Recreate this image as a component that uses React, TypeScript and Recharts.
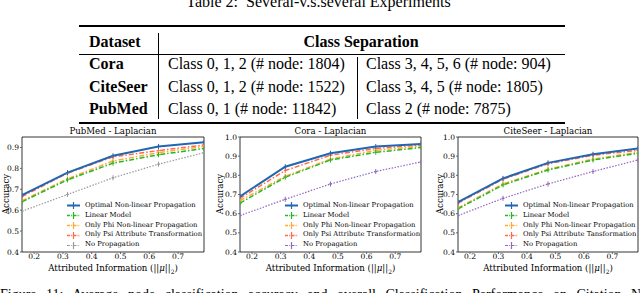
import React from "react"
import { LineChart, Line, XAxis, YAxis, ReferenceArea } from "recharts"

// table content
const tableTitle = "Table 2:  Several-v.s.several Experiments"
const datasets = ["Cora", "CiteSeer", "PubMed"]
const groupA = ["Class 0, 1, 2 (# node: 1804)", "Class 0, 1, 2 (# node: 1522)", "Class 0, 1 (# node: 11842)"]
const groupB = ["Class 3, 4, 5, 6 (# node: 904)", "Class 3, 4, 5 (# node: 1805)", "Class 2 (# node: 7875)"]

// x values of the sweep
const attrInfo = [0.158, 0.316, 0.474, 0.632, 0.79]
const xTicks = [0.2, 0.3, 0.4, 0.5, 0.6, 0.7]

const pubmedOptimal = [0.672, 0.78, 0.86, 0.905, 0.925]
const pubmedLinear = [0.64, 0.745, 0.825, 0.865, 0.895]
const pubmedPhi = [0.645, 0.75, 0.835, 0.875, 0.905]
const pubmedPsi = [0.665, 0.777, 0.855, 0.885, 0.912]
const pubmedNone = [0.595, 0.675, 0.755, 0.82, 0.875]

const coraOptimal = [0.69, 0.845, 0.915, 0.95, 0.963]
const coraLinear = [0.655, 0.79, 0.88, 0.92, 0.945]
const coraPhi = [0.668, 0.795, 0.885, 0.93, 0.952]
const coraPsi = [0.68, 0.825, 0.905, 0.94, 0.958]
const coraNone = [0.59, 0.675, 0.755, 0.82, 0.87]

const citeseerOptimal = [0.66, 0.784, 0.865, 0.91, 0.94]
const citeseerLinear = [0.625, 0.75, 0.828, 0.88, 0.915]
const citeseerPhi = [0.63, 0.755, 0.832, 0.885, 0.92]
const citeseerPsi = [0.655, 0.78, 0.86, 0.905, 0.93]
const citeseerNone = [0.59, 0.68, 0.755, 0.82, 0.88]

const seriesNames = [
    "Optimal Non-linear Propagation",
    "Linear Model",
    "Only Phi Non-linear Propagation",
    "Only Psi Attribute Transformation",
    "No Propagation",
]

const serif = "'DejaVu Serif', serif"
const times = "'Liberation Serif', 'Times New Roman', serif"

type Style = { key: string; color: string; width: number; dash?: string }

const makeStyles = (noneColor: string): Style[] => [
    { key: "opt", color: "#1f66b3", width: 2 },
    { key: "lin", color: "#25b825", width: 1.5, dash: "5 2 1.5 2" },
    { key: "phi", color: "#ffaa33", width: 1.5, dash: "5 2 1.5 2" },
    { key: "psi", color: "#ff6a4d", width: 1.5, dash: "5 2 1.5 2" },
    { key: "none", color: noneColor, width: 1.2, dash: "1.5 1.5" },
]

const PlusDot = (props: any) => {
    const { cx, cy, stroke } = props
    if (cx == null || cy == null) return null
    return (
        <g>
            <line x1={cx} x2={cx} y1={cy - 2.5} y2={cy + 2.5} stroke={stroke} strokeWidth={1} />
            <line x1={cx - 1.5} x2={cx + 1.5} y1={cy} y2={cy} stroke={stroke} strokeWidth={1} />
        </g>
    )
}

const LegendBox = ({ styles, names, left, top }: { styles: Style[]; names: string[]; left: number; top: number }) => (
    <div style={{ position: "absolute", left, top, fontFamily: serif, fontSize: 6.8, lineHeight: "9.8px", color: "#000" }}>
        {styles.map((s, i) => (
            <div key={s.key} style={{ display: "flex", alignItems: "center", whiteSpace: "nowrap", height: 9.8 }}>
                <svg width={19} height={9}>
                    <line x1={1} x2={14} y1={4.5} y2={4.5} stroke={s.color} strokeWidth={s.width} strokeDasharray={s.dash ? "3 1.2 1 1.2" : undefined} />
                    <line x1={7.5} x2={7.5} y1={1} y2={8} stroke={s.color} strokeWidth={1.2} />
                </svg>
                <span>{names[i]}</span>
            </div>
        ))}
    </div>
)

interface PanelProps {
    title: string
    left: number
    yWidth: number
    plotWidth: number
    rightMargin: number
    yMax: number
    yTicks: number[]
    values: number[][]
    noneColor: string
    names: string[]
    legendLeft: number
    yLabelX: number
}

const Panel = ({ title, left, yWidth, plotWidth, rightMargin, yMax, yTicks, values, noneColor, names, legendLeft, yLabelX }: PanelProps) => {
    const styles = makeStyles(noneColor)
    const data = attrInfo.map((x, i) => ({
        x,
        opt: values[0][i],
        lin: values[1][i],
        phi: values[2][i],
        psi: values[3][i],
        none: values[4][i],
    }))
    const W = yWidth + plotWidth + rightMargin
    const plotLeft = left + yWidth
    const centerX = plotLeft + plotWidth / 2
    return (
        <>
            <LineChart
                width={W}
                height={163}
                data={data}
                margin={{ top: 17, right: rightMargin, bottom: 0, left: 0 }}
                style={{ position: "absolute", left: left, top: 120 }}
            >
                <XAxis
                    dataKey="x"
                    type="number"
                    domain={[attrInfo[0], attrInfo[attrInfo.length - 1]]}
                    ticks={xTicks}
                    tickFormatter={(v) => v.toFixed(1)}
                    tick={{ fontSize: 7.5, fill: "#000", fontFamily: serif }}
                    tickSize={2}
                    tickMargin={0}
                    axisLine={false}
                    height={31}
                    allowDataOverflow
                />
                <YAxis
                    type="number"
                    domain={[0.4, yMax]}
                    ticks={yTicks}
                    tickFormatter={(v) => v.toFixed(1)}
                    tick={{ fontSize: 7.5, fill: "#000", fontFamily: serif }}
                    tickSize={2}
                    tickMargin={1}
                    axisLine={false}
                    width={yWidth}
                    allowDataOverflow
                />
                <ReferenceArea
                    x1={attrInfo[0]}
                    x2={attrInfo[attrInfo.length - 1]}
                    y1={0.4}
                    y2={yMax}
                    fill="none"
                    fillOpacity={0}
                    stroke="#000"
                    strokeWidth={0.8}
                />
                {[...styles].reverse().map((s) => (
                    <Line
                        key={s.key}
                        dataKey={s.key}
                        stroke={s.color}
                        strokeWidth={s.width}
                        strokeDasharray={s.dash}
                        dot={<PlusDot />}
                        activeDot={false}
                        isAnimationActive={false}
                        type="linear"
                    />
                ))}
            </LineChart>
            <LegendBox styles={styles} names={names} left={legendLeft} top={201} />
            <div style={{ position: "absolute", left: centerX - 100, width: 200, top: 126, textAlign: "center", fontFamily: serif, fontSize: 8.6, lineHeight: "10px" }}>
                {title}
            </div>
            <div style={{ position: "absolute", left: centerX - 100, width: 200, top: 262.5, textAlign: "center", fontFamily: serif, fontSize: 8.6, lineHeight: "10px", whiteSpace: "nowrap" }}>
                Attributed Information (||<i>μ</i>||<sub style={{ fontSize: 6, lineHeight: 0 }}>2</sub>)
            </div>
            <div
                style={{
                    position: "absolute",
                    left: yLabelX - 40,
                    width: 80,
                    top: 189,
                    textAlign: "center",
                    fontFamily: serif,
                    fontSize: 8.6,
                    lineHeight: "10px",
                    transform: "rotate(-90deg)",
                }}
            >
                Accuracy
            </div>
        </>
    )
}

const App = () => {
    const rule = (top: number, h: number) => (
        <div style={{ position: "absolute", left: 79, width: 486, top, height: h, background: "#000" }} />
    )
    return (
        <div style={{ position: "absolute", left: 0, top: 0, width: 640, height: 293, overflow: "hidden", background: "#fff" }}>
            <div style={{ position: "absolute", left: 0, width: 637, top: -6, textAlign: "center", fontFamily: times, fontSize: 16, lineHeight: "16px", whiteSpace: "pre" }}>
                {tableTitle}
            </div>
            {rule(25, 2)}
            {rule(54, 1)}
            {rule(122, 2)}
            <div style={{ position: "absolute", left: 158, top: 33, width: 1, height: 86, background: "#000" }} />
            <div style={{ position: "absolute", left: 357, top: 57, width: 1, height: 62, background: "#000" }} />
            <div style={{ position: "absolute", left: 89, top: 34, fontFamily: times, fontSize: 16, lineHeight: "16px", fontWeight: 700 }}>Dataset</div>
            <div style={{ position: "absolute", left: 261, width: 200, top: 34, textAlign: "center", fontFamily: times, fontSize: 16, lineHeight: "16px", fontWeight: 700 }}>
                Class Separation
            </div>
            {datasets.map((d, i) => (
                <React.Fragment key={d}>
                    <div style={{ position: "absolute", left: 89, top: 56 + i * 22.5, fontFamily: times, fontSize: 16, lineHeight: "16px", fontWeight: 700 }}>{d}</div>
                    <div style={{ position: "absolute", left: 168, top: 56 + i * 22.5, fontFamily: times, fontSize: 16, lineHeight: "16px", whiteSpace: "nowrap" }}>{groupA[i]}</div>
                    <div style={{ position: "absolute", left: 366, top: 56 + i * 22.5, fontFamily: times, fontSize: 16, lineHeight: "16px", whiteSpace: "nowrap" }}>{groupB[i]}</div>
                </React.Fragment>
            ))}

            <Panel
                title="PubMed - Laplacian"
                left={0}
                yWidth={22}
                plotWidth={182}
                rightMargin={6}
                yMax={0.95}
                yTicks={[0.4, 0.5, 0.6, 0.7, 0.8, 0.9]}
                values={[pubmedOptimal, pubmedLinear, pubmedPhi, pubmedPsi, pubmedNone]}
                noneColor="#9a9a9a"
                names={seriesNames}
                legendLeft={66}
                yLabelX={6}
            />
            <Panel
                title="Cora - Laplacian"
                left={212}
                yWidth={28}
                plotWidth={181}
                rightMargin={3}
                yMax={1.0}
                yTicks={[0.4, 0.5, 0.6, 0.7, 0.8, 0.9, 1.0]}
                values={[coraOptimal, coraLinear, coraPhi, coraPsi, coraNone]}
                noneColor="#9467bd"
                names={seriesNames}
                legendLeft={284}
                yLabelX={220}
            />
            <Panel
                title="CiteSeer - Laplacian"
                left={426}
                yWidth={32}
                plotWidth={180}
                rightMargin={2}
                yMax={1.0}
                yTicks={[0.4, 0.5, 0.6, 0.7, 0.8, 0.9, 1.0]}
                values={[citeseerOptimal, citeseerLinear, citeseerPhi, citeseerPsi, citeseerNone]}
                noneColor="#9467bd"
                names={[seriesNames[0], seriesNames[1], seriesNames[2], "Only Psi Attribute Tansformation", seriesNames[4]]}
                legendLeft={504}
                yLabelX={440}
            />

            <div style={{ position: "absolute", left: 0, width: 640, top: 287, fontFamily: times, fontSize: 14, lineHeight: "16px", whiteSpace: "nowrap", wordSpacing: 6 }}>
                Figure 11: Average node classification accuracy and overall Classification Performance on Citation Networks of Different
            </div>
        </div>
    )
}

export default App
